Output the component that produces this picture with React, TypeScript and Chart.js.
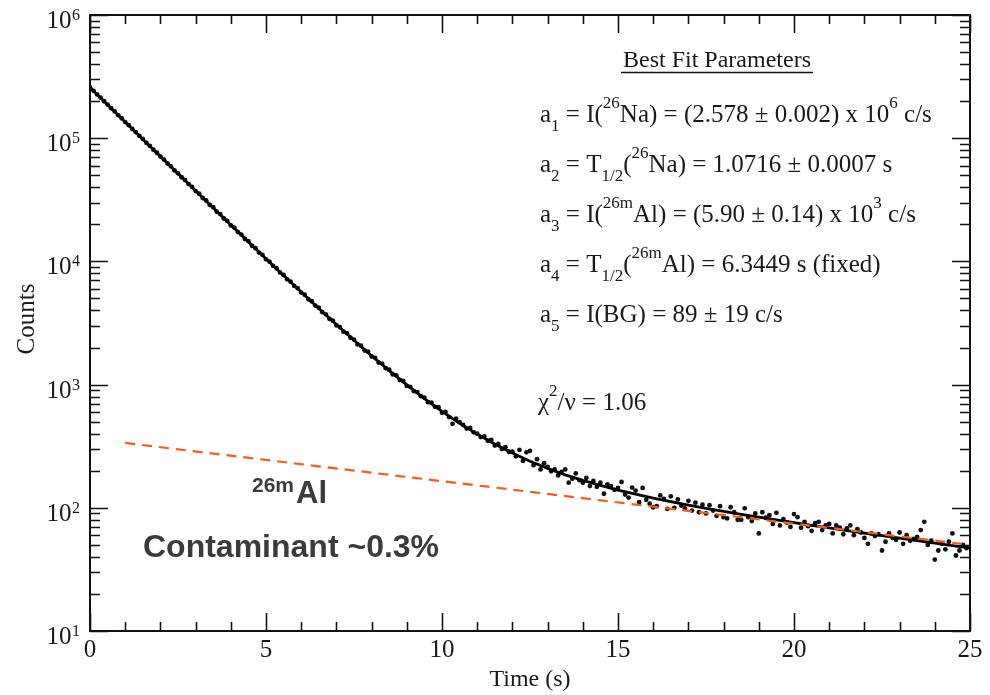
import React, { useEffect, useRef } from "react";
import { Chart, registerables } from "chart.js";

Chart.register(...registerables);

// ---- data ----
const BIN_WIDTH = 0.1; // s per bin, bins start at t = 0
const COUNTS = [
  258100, 242600, 226800, 213300, 199400,
  187500, 175100, 164800, 153900, 144900,
  135200, 127500, 118900, 112100, 104500,
  98600, 91800, 86700, 80700, 76200,
  70900, 67100, 62300, 59000, 54800,
  51900, 48200, 45700, 42400, 40200,
  37200, 35400, 32700, 31200, 28800,
  27500, 25300, 24200, 22300, 21300,
  19600, 18800, 17300, 16500, 15200,
  14600, 13400, 12800, 11800, 11300,
  10400, 9950, 9200, 8800, 8120,
  7760, 7150, 6850, 6320, 6060,
  5580, 5360, 4930, 4750, 4380,
  4210, 3870, 3720, 3420, 3300,
  3020, 2930, 2690, 2620, 2400,
  2320, 2120, 2070, 1890, 1850,
  1690, 1650, 1510, 1480, 1360,
  1320, 1210, 1190, 1090, 1070,
  975, 960, 885, 870, 805,
  785, 720, 715, 660, 655,
  590, 600, 545, 480, 530,
  495, 470, 440, 445, 410,
  400, 375, 380, 350, 355,
  320, 330, 300, 310, 285,
  285, 262, 295, 240, 282,
  290, 222, 248, 205, 230,
  215, 198, 205, 183, 196,
  205, 160, 172, 190, 168,
  160, 175, 150, 165, 148,
  160, 130, 155, 150, 140,
  145, 162, 128, 121, 146,
  138, 111, 145, 116, 108,
  101, 103, 126, 118, 98,
  124, 100, 117, 104, 99,
  114, 95, 110, 92, 106,
  90, 105, 95, 86, 103,
  84, 82, 101, 92, 80,
  80, 99, 84, 78, 90,
  62, 92, 83, 87, 74,
  91, 72, 81, 76, 70,
  89, 84, 69, 77, 71,
  65, 75, 77, 66, 72,
  74, 62, 72, 69, 61,
  68, 72, 60, 67, 63,
  57, 51, 62, 59, 61,
  45, 53, 62, 57, 55,
  63, 51, 60, 54, 56,
  58, 66, 77, 50, 54,
  38, 45, 51, 46, 53,
  62, 41, 45, 50, 47,
];

const FIT_TIMES = [
  0, 0.5, 1, 1.5, 2, 2.5, 3, 3.5, 4, 4.5, 5, 5.5, 6, 6.5, 7, 7.5, 8, 8.5, 9, 9.5,
  10, 10.5, 11, 11.5, 12, 12.5, 13, 13.5, 14, 14.5, 15, 15.5, 16, 16.5, 17, 17.5,
  18, 18.5, 19, 19.5, 20, 20.5, 21, 21.5, 22, 22.5, 23, 23.5, 24, 24.5, 25,
];
const FIT_COUNTS = [
  258400, 187140, 135560, 98230, 71200, 51640, 37470, 27220, 19790, 14410,
  10510, 7690, 5640, 4150, 3070, 2290, 1715, 1298, 994, 771,
  607, 486, 396, 329, 278, 239, 209, 185, 167, 152,
  139, 129, 120, 112, 105, 99, 93.6, 88.5, 84.0, 79.8,
  75.7, 72.1, 68.6, 65.3, 62.3, 59.4, 56.7, 54.1, 51.7, 49.4, 47.2,
];

const AL_TIMES = [1, 25];
const AL_COUNTS = [336, 50];

const X_MIN = 0;
const X_MAX = 25;
const X_MAJOR_STEP = 5;
const Y_MIN_EXP = 1;
const Y_MAX_EXP = 6;

const SERIF = '"Liberation Serif", "Times New Roman", Times, serif';
const SANS = '"Liberation Sans", Arial, Helvetica, sans-serif';

type Seg = [string, "n" | "b" | "p"];

const PARAM_LINES: Seg[][] = [
  [["a", "n"], ["1", "b"], [" = I(", "n"], ["26", "p"], ["Na) = (2.578 \u00B1 0.002) x 10", "n"], ["6", "p"], [" c/s", "n"]],
  [["a", "n"], ["2", "b"], [" = T", "n"], ["1/2", "b"], ["(", "n"], ["26", "p"], ["Na) = 1.0716 \u00B1 0.0007 s", "n"]],
  [["a", "n"], ["3", "b"], [" = I(", "n"], ["26m", "p"], ["Al) = (5.90 \u00B1 0.14) x 10", "n"], ["3", "p"], [" c/s", "n"]],
  [["a", "n"], ["4", "b"], [" = T", "n"], ["1/2", "b"], ["(", "n"], ["26m", "p"], ["Al) = 6.3449 s (fixed)", "n"]],
  [["a", "n"], ["5", "b"], [" = I(BG) = 89 \u00B1 19 c/s", "n"]],
];
const CHI_LINE: Seg[] = [["\u03C7", "n"], ["2", "p"], ["/\u03BD = 1.06", "n"]];

function drawRich(ctx: CanvasRenderingContext2D, x: number, y: number, segs: Seg[], size: number) {
  let cx = x;
  for (const [t, m] of segs) {
    const fs = m === "n" ? size : Math.round(size * 0.66);
    ctx.font = `${fs}px ${SERIF}`;
    const dy = m === "b" ? 9 : m === "p" ? -14 : 0;
    ctx.fillText(t, cx, y + dy);
    cx += ctx.measureText(t).width;
  }
}

export default function App() {
  const ref = useRef<HTMLCanvasElement>(null);

  useEffect(() => {
    document.body.style.margin = "0";
    const canvas = ref.current!;

    const framePlugin = {
      id: "frameAndText",
      afterDraw(chart: any) {
        const ctx: CanvasRenderingContext2D = chart.ctx;
        const xs = chart.scales.x;
        const ys = chart.scales.y;
        const { left, right, top, bottom } = chart.chartArea;
        ctx.save();
        ctx.strokeStyle = "#111";
        ctx.fillStyle = "#111";

        // frame
        ctx.lineWidth = 2;
        ctx.strokeRect(left, top, right - left, bottom - top);

        // x ticks (inward, bottom and top)
        ctx.lineWidth = 1.6;
        ctx.beginPath();
        for (let t = X_MIN; t <= X_MAX; t += 1) {
          const px = Math.round(xs.getPixelForValue(t)) + 0.5;
          const len = t % X_MAJOR_STEP === 0 ? 18 : 9;
          ctx.moveTo(px, bottom);
          ctx.lineTo(px, bottom - len);
          ctx.moveTo(px, top);
          ctx.lineTo(px, top + len);
        }
        // y ticks (inward, left and right)
        for (let e = Y_MIN_EXP; e <= Y_MAX_EXP; e++) {
          for (let k = 1; k <= 9; k++) {
            if (e === Y_MAX_EXP && k > 1) break;
            const v = k * Math.pow(10, e);
            const py = Math.round(ys.getPixelForValue(v)) + 0.5;
            const len = k === 1 ? 18 : 10;
            ctx.moveTo(left, py);
            ctx.lineTo(left + len, py);
            ctx.moveTo(right, py);
            ctx.lineTo(right - len, py);
          }
        }
        ctx.stroke();

        // tick labels
        ctx.fillStyle = "#1a1a1a";
        ctx.textBaseline = "alphabetic";
        ctx.textAlign = "center";
        ctx.font = `25px ${SERIF}`;
        for (let t = X_MIN; t <= X_MAX; t += X_MAJOR_STEP) {
          ctx.fillText(String(t), xs.getPixelForValue(t), bottom + 26);
        }
        ctx.textAlign = "left";
        for (let e = Y_MIN_EXP; e <= Y_MAX_EXP; e++) {
          const py = ys.getPixelForValue(Math.pow(10, e));
          ctx.font = `16px ${SERIF}`;
          const ew = ctx.measureText(String(e)).width;
          const expX = left - 10 - ew;
          ctx.fillText(String(e), expX, py + 5);
          ctx.font = `25px ${SERIF}`;
          const bw = ctx.measureText("10").width;
          ctx.fillText("10", expX - bw - 0.5, py + 13);
        }

        // axis titles
        ctx.textAlign = "center";
        ctx.font = `24px ${SERIF}`;
        ctx.fillText("Time (s)", (left + right) / 2, 686);
        ctx.save();
        ctx.translate(27, 319);
        ctx.rotate(-Math.PI / 2);
        ctx.textBaseline = "middle";
        ctx.font = `25px ${SERIF}`;
        ctx.fillText("Counts", 0, 0);
        ctx.restore();

        // best fit box
        ctx.textAlign = "center";
        ctx.textBaseline = "alphabetic";
        ctx.font = `24px ${SERIF}`;
        const title = "Best Fit Parameters";
        const tw = ctx.measureText(title).width;
        const tcx = 717;
        ctx.fillText(title, tcx, 67);
        ctx.lineWidth = 1.5;
        ctx.beginPath();
        ctx.moveTo(tcx - tw / 2 - 2, 72.5);
        ctx.lineTo(tcx + tw / 2 + 2, 72.5);
        ctx.stroke();

        ctx.textAlign = "left";
        PARAM_LINES.forEach((segs, i) => drawRich(ctx, 540, 122 + i * 50, segs, 25));
        drawRich(ctx, 538, 410, CHI_LINE, 25);

        // 26mAl annotation
        ctx.fillStyle = "#3b3b3d";
        ctx.font = `bold 21px ${SANS}`;
        ctx.fillText("26m", 252, 492);
        const sw = ctx.measureText("26m").width;
        ctx.font = `bold 31px ${SANS}`;
        ctx.fillText("Al", 252 + sw + 2, 503);
        ctx.font = `bold 32px ${SANS}`;
        ctx.fillText("Contaminant ~0.3%", 143, 557);

        ctx.restore();
      },
    };

    const points = COUNTS.map((c, i) => ({ x: i * BIN_WIDTH, y: c }));
    const fit = FIT_TIMES.map((t, i) => ({ x: t, y: FIT_COUNTS[i] }));
    const al = AL_TIMES.map((t, i) => ({ x: t, y: AL_COUNTS[i] }));

    const chart = new Chart(canvas, {
      type: "scatter",
      data: {
        datasets: [
          {
            label: "26mAl",
            data: al,
            showLine: true,
            borderColor: "#f95a1e",
            borderWidth: 2.2,
            borderDash: [10, 7],
            pointRadius: 0,
          },
          {
            label: "fit",
            data: fit,
            showLine: true,
            borderColor: "#000",
            borderWidth: 2.8,
            pointRadius: 0,
            tension: 0,
          },
          {
            label: "data",
            data: points,
            showLine: false,
            pointRadius: 2.4,
            pointBackgroundColor: "#111",
            pointBorderWidth: 0,
          },
        ],
      } as any,
      options: {
        animation: false,
        responsive: false,
        devicePixelRatio: 1,
        layout: { padding: { left: 90, right: 20, top: 15, bottom: 64 } },
        plugins: { legend: { display: false }, tooltip: { enabled: false } },
        scales: {
          x: { type: "linear", min: X_MIN, max: X_MAX, display: false },
          y: { type: "logarithmic", min: Math.pow(10, Y_MIN_EXP), max: Math.pow(10, Y_MAX_EXP), display: false },
        },
      } as any,
      plugins: [framePlugin],
    });
    return () => chart.destroy();
  }, []);

  return <canvas ref={ref} width={990} height={695} style={{ display: "block" }} />;
}
